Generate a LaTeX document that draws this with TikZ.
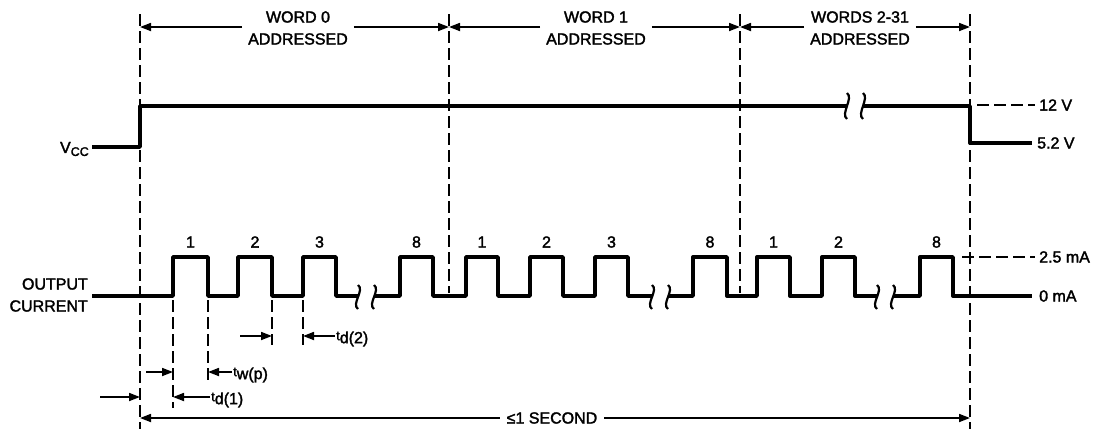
\documentclass[tikz,border=0pt]{standalone}
\usepackage{fontspec}
\setmainfont{Liberation Sans}[BoldFont=Liberation Sans, BoldFeatures={FakeBold=2}]
\usetikzlibrary{arrows.meta}
\begin{document}
\begin{tikzpicture}[x=1pt,y=-1pt,
  every node/.style={font=\fontsize{16}{22}\selectfont\bfseries, inner sep=0pt},
  sig/.style={line width=3.4pt, line join=round},
  brk/.style={line width=2.2pt},
  guide/.style={line width=1.7pt, dash pattern=on 12pt off 5pt},
  dim/.style={line width=1.7pt, -{Triangle[length=11pt,width=8pt]}},
  lbl/.style={fill=white, inner xsep=6pt, inner ysep=2pt, align=center},
  tlbl/.style={anchor=west, inner xsep=1pt}]
\useasboundingbox (0,0) rectangle (1106,429);
\fill[white] (0,0) rectangle (1106,429);

% coordinates of guide lines
\coordinate (g0) at (140,27);
\coordinate (g1) at (449,27);
\coordinate (g2) at (740,27);
\coordinate (g3) at (970,27);

% vertical dashed guides
\draw[guide] (140,14) -- (140,429);
\draw[guide] (449,14) -- (449,293);
\draw[guide] (740,14) -- (740,293);
\draw[guide] (970,14) -- (970,429);
\draw[guide] (173,300) -- (173,408);
\draw[guide] (208,300) -- (208,380);
\draw[guide] (272,300) -- (272,345);
\draw[guide] (303,300) -- (303,345);

% top dimension labels
\node[lbl] (w0) at (298,28) {WORD 0\\ADDRESSED};
\node[lbl] (w1) at (596,28) {WORD 1\\ADDRESSED};
\node[lbl] (w2) at (860,28) {WORDS 2-31\\ADDRESSED};
\draw[dim] (w0.west |- g0) -- (g0);
\draw[dim] (w0.east |- g0) -- (g1);
\draw[dim] (w1.west |- g1) -- (g1);
\draw[dim] (w1.east |- g1) -- (g2);
\draw[dim] (w2.west |- g2) -- (g2);
\draw[dim] (w2.east |- g2) -- (g3);

% VCC
\node[anchor=east] (vcc) at (89,149) {V\raisebox{-3pt}{\fontsize{12.5}{12}\selectfont\bfseries CC}};
\draw[sig] (92,147) -- (140,147) -- (140,106) -- (847,106);
\draw[sig] (863,106) -- (970,106) -- (970,143) -- (1032,143);
\draw[brk] (847,93) .. controls (854,98) and (840,114) .. (847,119);
\draw[brk] (863,93) .. controls (870,98) and (856,114) .. (863,119);
\draw[guide] (977,105) -- (1035,105);
\node[anchor=west] (v12) at (1039,105) {12 V};
\node[anchor=west] (v52) at (1037,143) {5.2 V};

% Output current
\node[anchor=east, align=right] (oc) at (88,295) {OUTPUT\\CURRENT};
\draw[sig] (92,296) foreach \a/\b in {173/208,238/272,303/336}
  { -- (\a,296) -- (\a,257) -- (\b,257) -- (\b,296) } -- (358,296);
\draw[sig] (374,296) foreach \a/\b in {400/433,466/498,530/563,595/628}
  { -- (\a,296) -- (\a,257) -- (\b,257) -- (\b,296) } -- (652,296);
\draw[sig] (668,296) foreach \a/\b in {693/727,757/790,822/855}
  { -- (\a,296) -- (\a,257) -- (\b,257) -- (\b,296) } -- (877,296);
\draw[sig] (893,296) -- (920,296) -- (920,257) -- (953,257) -- (953,296) -- (1032,296);
\foreach \x in {358,374,652,668,877,893}
  \draw[brk] (\x,285) .. controls (\x+7,290) and (\x-7,304) .. (\x,309);
\foreach \x/\n in {190.5/1,255/2,319.5/3,416.5/8,482/1,546.5/2,611.5/3,710/8,773.5/1,838.5/2,936.5/8}
  \node (n\x) at (\x,242) {\n};
\draw[guide] (962,257) -- (1035,257);
\node[anchor=west] (i25) at (1039,257) {2.5 mA};
\node[anchor=west] (i0) at (1039,296) {0 mA};

% timing dimensions
\coordinate (a272) at (272,336);
\coordinate (a303) at (303,336);
\draw[dim] (240,336) -- (a272);
\node[tlbl] (td2) at (335,339) {{\fontsize{13}{12}\selectfont\bfseries t}\raisebox{-3pt}{d(2)}};
\draw[dim] (td2.west |- a303) -- (a303);

\coordinate (a173) at (173,372);
\coordinate (a208) at (208,372);
\draw[dim] (146,372) -- (a173);
\node[tlbl] (twp) at (232,375) {{\fontsize{13}{12}\selectfont\bfseries t}\raisebox{-3pt}{w(p)}};
\draw[dim] (twp.west |- a208) -- (a208);

\coordinate (b140) at (140,397);
\coordinate (b173) at (173,397);
\draw[dim] (100,397) -- (b140);
\node[tlbl] (td1) at (210,400) {{\fontsize{13}{12}\selectfont\bfseries t}\raisebox{-3pt}{d(1)}};
\draw[dim] (td1.west |- b173) -- (b173);

\coordinate (s0) at (140,418);
\coordinate (s1) at (970,418);
\node[fill=white, inner xsep=7pt, inner ysep=2pt] (sec) at (552,418) {≤1 SECOND};
\draw[dim] (sec.west) -- (s0);
\draw[dim] (sec.east) -- (s1);
\end{tikzpicture}
\end{document}
